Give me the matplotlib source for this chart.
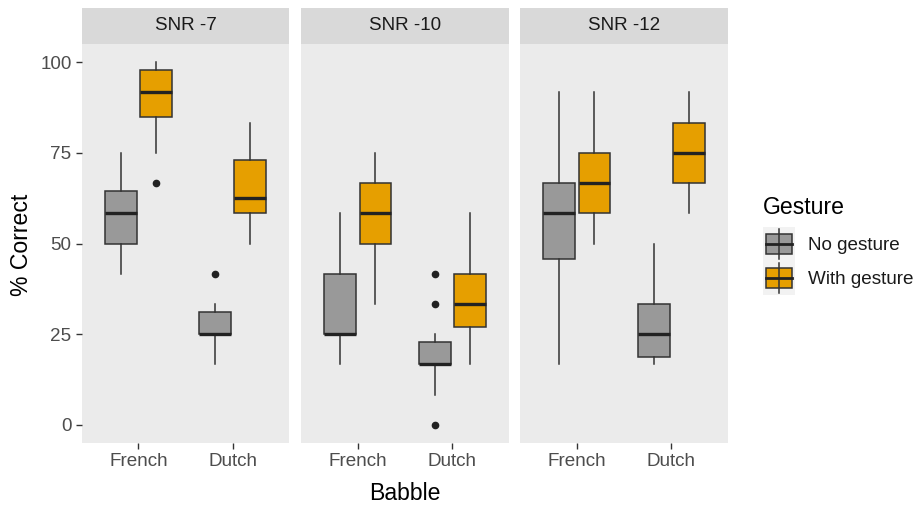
import matplotlib
matplotlib.use("Agg")
import matplotlib.pyplot as plt
from matplotlib.patches import Rectangle

plt.rcParams['font.family'] = ['Liberation Sans', 'DejaVu Sans']

# ---- data ----
panels = ["SNR -7", "SNR -10", "SNR -12"]
babble = ["French", "Dutch"]
gesture = ["No gesture", "With gesture"]
# order inside each panel: French-No, French-With, Dutch-No, Dutch-With
whislo = [[41.67, 75.00, 16.67, 50.00],
          [16.67, 33.33, 8.33, 16.67],
          [16.67, 50.00, 16.67, 58.33]]
q1 = [[50.00, 85.00, 25.00, 58.33],
      [25.00, 50.00, 16.67, 27.08],
      [45.83, 58.33, 18.75, 66.67]]
med = [[58.33, 91.67, 25.00, 62.50],
       [25.00, 58.33, 16.67, 33.33],
       [58.33, 66.67, 25.00, 75.00]]
q3 = [[64.58, 97.92, 31.25, 72.92],
      [41.67, 66.67, 22.92, 41.67],
      [66.67, 75.00, 33.33, 83.33]]
whishi = [[75.00, 100.00, 33.33, 83.33],
          [58.33, 75.00, 25.00, 58.33],
          [91.67, 91.67, 50.00, 91.67]]
fliers = [[[], [66.67], [41.67], []],
          [[], [], [41.67, 33.33, 0.0], []],
          [[], [], [], []]]
yticks = [0, 25, 50, 75, 100]

# ---- style ----
W, H = 916, 507
fill_cols = ["#999999", "#E69F00"]
edge = "#333333"
panel_bg = "#EBEBEB"
strip_bg = "#D9D9D9"
txt = "#4D4D4D"
big = 16.6
small = 13.6

fig = plt.figure(figsize=(W / 100, H / 100), dpi=100)

def fx(px):
    return px / W

def fy(py):
    return 1 - py / H

panel_x = [(82, 289), (301, 509), (520, 728)]
ptop, pbot, stop = 44, 443, 8

offs = [-0.1875, 0.1875]
bw = 0.3375

for i, name in enumerate(panels):
    x0, x1 = panel_x[i]
    ax = fig.add_axes([fx(x0), fy(pbot), fx(x1 - x0), (pbot - ptop) / H])
    ax.set_facecolor(panel_bg)
    for s in ax.spines.values():
        s.set_visible(False)
    stats, pos, cols = [], [], []
    for b in range(2):
        for g in range(2):
            k = b * 2 + g
            stats.append(dict(whislo=whislo[i][k], q1=q1[i][k], med=med[i][k],
                              q3=q3[i][k], whishi=whishi[i][k], fliers=fliers[i][k]))
            pos.append(b + 1 + offs[g])
            cols.append(fill_cols[g])
    bp = ax.bxp(stats, positions=pos, widths=bw, patch_artist=True, showcaps=False,
                boxprops=dict(edgecolor=edge, linewidth=1.1),
                medianprops=dict(color="#222222", linewidth=2.4),
                whiskerprops=dict(color=edge, linewidth=1.1),
                flierprops=dict(marker='o', markerfacecolor="#222222",
                                markeredgecolor="#222222", markersize=4.5))
    for patch, c in zip(bp['boxes'], cols):
        patch.set_facecolor(c)
    ax.set_xlim(0.4, 2.6)
    ax.set_ylim(-5, 105)
    ax.set_xticks([1, 2])
    ax.set_xticklabels(babble)
    ax.set_yticks(yticks)
    ax.tick_params(axis='both', length=4.1, width=1.0, color="#333333",
                   labelcolor=txt, labelsize=small, pad=3.4)
    if i > 0:
        ax.tick_params(axis='y', left=False, labelleft=False)
    # strip
    sax = fig.add_axes([fx(x0), fy(ptop), fx(x1 - x0), (ptop - stop) / H])
    sax.set_facecolor(strip_bg)
    sax.set_xticks([]); sax.set_yticks([])
    for s in sax.spines.values():
        s.set_visible(False)
    sax.text(0.5, 0.5, name, ha='center', va='center', fontsize=small,
             color="#1A1A1A", transform=sax.transAxes)

fig.text(fx(22), fy(245), "% Correct", rotation=90, ha='center', va='center',
         fontsize=big, color="#000000")
fig.text(fx(405), fy(494), "Babble", ha='center', va='center',
         fontsize=big, color="#000000")

# ---- legend ----
lax = fig.add_axes([0, 0, 1, 1])
lax.set_xlim(0, W)
lax.set_ylim(H, 0)
lax.axis('off')
lax.text(763, 207, "Gesture", ha='left', va='center', fontsize=big, color="#000000")
key_cy = [244, 278]
for g, lab in enumerate(gesture):
    cy = key_cy[g]
    lax.add_patch(Rectangle((763, cy - 17), 32, 34, facecolor="#F2F2F2", edgecolor='none'))
    lax.plot([779, 779], [cy - 15, cy + 15], color=edge, lw=1.1)
    lax.add_patch(Rectangle((766, cy - 10), 26, 20, facecolor=fill_cols[g],
                            edgecolor=edge, lw=1.1))
    lax.plot([766, 792], [cy, cy], color="#222222", lw=2.0)
    lax.text(808, cy + 2, lab, ha='left', va='center', fontsize=small, color="#1A1A1A")

fig.savefig("out.png", dpi=100, facecolor="white")
